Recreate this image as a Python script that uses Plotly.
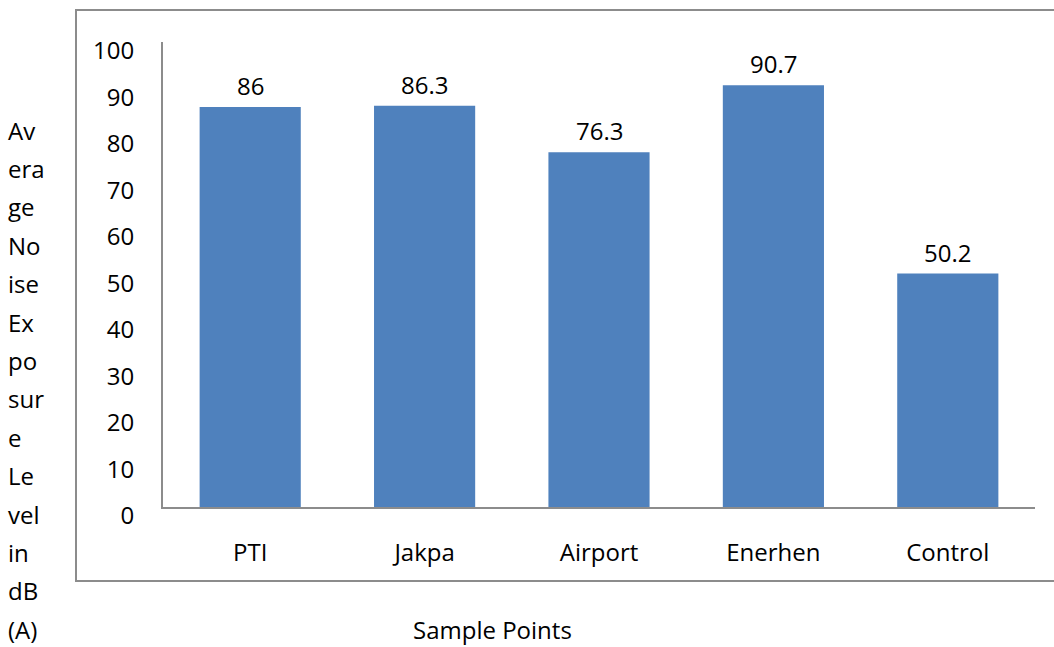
import plotly.graph_objects as go

# Sample points and their average noise exposure levels, dB(A)
sample_points = ["PTI", "Jakpa", "Airport", "Enerhen", "Control"]
noise_levels = [86, 86.3, 76.3, 90.7, 50.2]
level_labels = ["86", "86.3", "76.3", "90.7", "50.2"]

y_ticks = [0, 10, 20, 30, 40, 50, 60, 70, 80, 90, 100]
y_axis_lines = ["Av", "era", "ge", "No", "ise", "Ex", "po", "sur", "e",
                "Le", "vel", "in", "dB", "(A)"]
x_title = "Sample Points"

W, H = 1054, 647
L, R, T, B = 163, 1035, 42, 507  # plot area in pixels
pw, ph = R - L, B - T

FONT = "Open Sans"
FS = 24
GREY = "#8c8c8c"
BAR = "#4f81bd"


def px_x(x):
    return (x - L) / pw


def px_y(y):
    return (B - y) / ph


fig = go.Figure()
fig.add_trace(go.Bar(
    x=sample_points,
    y=noise_levels,
    marker=dict(color=BAR, line=dict(width=0)),
    width=0.58,
    hoverinfo="skip",
))

annotations = []
# value labels above the bars
for cat, val, lab in zip(sample_points, noise_levels, level_labels):
    annotations.append(dict(
        x=cat, y=val, xref="x", yref="y", text=lab, showarrow=False,
        yanchor="bottom", yshift=3, font=dict(family=FONT, size=FS, color="#000"),
    ))

# wrapped y-axis title, one fragment per line
line_y0, line_step = 130, 38.4
for i, frag in enumerate(y_axis_lines):
    annotations.append(dict(
        x=px_x(7), y=px_y(line_y0 + i * line_step), xref="paper", yref="paper",
        text=frag, showarrow=False, xanchor="left", yanchor="middle",
        borderpad=0, font=dict(family=FONT, size=FS, color="#000"),
    ))

# x-axis title
annotations.append(dict(
    x=px_x(492), y=px_y(629), xref="paper", yref="paper", text=x_title,
    showarrow=False, xanchor="center", yanchor="middle", borderpad=0,
    font=dict(family=FONT, size=FS, color="#000"),
))

# outer chart border
shapes = [dict(
    type="rect", xref="paper", yref="paper",
    x0=px_x(76), x1=px_x(1060), y0=px_y(581), y1=px_y(10),
    line=dict(color=GREY, width=2), fillcolor="rgba(0,0,0,0)", layer="below",
)]

fig.update_layout(
    width=W, height=H,
    margin=dict(l=L, r=W - R, t=T, b=H - B, pad=0),
    paper_bgcolor="white", plot_bgcolor="white",
    showlegend=False,
    bargap=0.42,
    font=dict(family=FONT, size=FS, color="#000"),
    annotations=annotations,
    shapes=shapes,
    xaxis=dict(
        showline=True, linecolor=GREY, linewidth=2, showgrid=False,
        ticks="", ticklabelstandoff=23, tickfont=dict(family=FONT, size=FS, color="#000"),
        fixedrange=True,
    ),
    yaxis=dict(
        range=[0, 100], tickvals=y_ticks, showline=True, linecolor=GREY, linewidth=2,
        showgrid=False, zeroline=False, ticks="", ticklabelstandoff=22,
        ticklabelshift=9, tickfont=dict(family=FONT, size=FS, color="#000"),
        fixedrange=True,
    ),
)

fig.write_html("out.html")
